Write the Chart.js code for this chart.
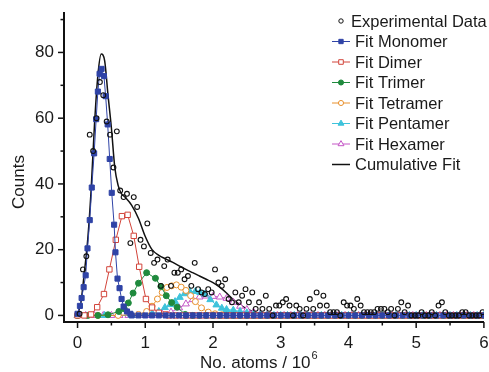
<!DOCTYPE html>
<html>
<head>
<meta charset="utf-8">
<script src="https://cdn.jsdelivr.net/npm/chart.js@4.4.1/dist/chart.umd.min.js"></script>
<style>
  html, body { margin: 0; padding: 0; background: #fff; }
  #wrap { width: 489px; height: 372px; }
</style>
</head>
<body>
<div id="wrap"><canvas id="chart" width="489" height="372"></canvas></div>
<script>
// axis ticks
const xTickLabels = [0, 1, 2, 3, 4, 5, 6];
const xTickMarks = [0, 0.5, 1, 1.5, 2, 2.5, 3, 3.5, 4, 4.5, 5, 5.5, 6];
const yTickLabels = [0, 20, 40, 60, 80];
const yTickMarks = [0, 10, 20, 30, 40, 50, 60, 70, 80, 90];

// experimental data (No. atoms / 10^6, counts)
const expX = [
  0.03, 0.08, 0.13, 0.18, 0.23, 0.28, 0.33, 0.38, 0.43, 0.48,
  0.53, 0.58, 0.63, 0.68, 0.73, 0.78, 0.83, 0.88, 0.93, 0.98,
  1.03, 1.08, 1.13, 1.18, 1.23, 1.28, 1.33, 1.38, 1.43, 1.48,
  1.53, 1.58, 1.63, 1.68, 1.73, 1.78, 1.83, 1.88, 1.93, 1.98,
  2.03, 2.08, 2.13, 2.18, 2.23, 2.28, 2.33, 2.38, 2.43, 2.48,
  2.53, 2.58, 2.63, 2.68, 2.73, 2.78, 2.83, 2.88, 2.93, 2.98,
  3.03, 3.08, 3.13, 3.18, 3.23, 3.28, 3.33, 3.38, 3.43, 3.48,
  3.53, 3.58, 3.63, 3.68, 3.73, 3.78, 3.83, 3.88, 3.93, 3.98,
  4.03, 4.08, 4.13, 4.18, 4.23, 4.28, 4.33, 4.38, 4.43, 4.48,
  4.53, 4.58, 4.63, 4.68, 4.73, 4.78, 4.83, 4.88, 4.93, 4.98,
  5.03, 5.08, 5.13, 5.18, 5.23, 5.28, 5.33, 5.38, 5.43, 5.48,
  5.53, 5.58, 5.63, 5.68, 5.73, 5.78, 5.83, 5.88, 5.93, 5.98
];
const expY = [
  0.5, 14, 18, 55, 50, 60, 71, 67, 59, 55,
  45, 56, 38, 36, 37, 22, 36, 33, 23, 21,
  28, 19, 16, 17, 9, 15, 17, 9, 13, 13,
  14, 11, 12, 9, 16, 8, 7, 6.5, 8, 7,
  14, 10, 9, 11, 5, 4, 7, 4, 6, 8,
  4, 7, 2, 4, 2, 6, 2, 0, 3, 3,
  4, 5, 3, 0, 3, 2, 0, 2, 5, 2,
  7, 3, 6, 3, 1, 1, 1, 0, 4, 3,
  3, 2, 5, 3, 1, 1, 1, 1, 2, 2,
  2, 1, 2, 0, 2, 4, 1, 3, 0, 0,
  0, 1, 0, 0, 1, 0, 3, 4, 1, 0,
  0, 0, 0, 1, 1, 0, 0, 0, 0, 1
];

// fitted components
const monoX = [0, 0.035, 0.06, 0.09, 0.12, 0.147, 0.18, 0.21, 0.245, 0.275, 0.3, 0.325, 0.355, 0.39, 0.415, 0.445, 0.475, 0.505, 0.54, 0.56, 0.59, 0.62, 0.65, 0.68, 0.73, 0.78];
const monoY = [0.5, 2.9, 5.3, 8.6, 12.2, 20.4, 29, 38.9, 49.3, 59.7, 68.1, 73.5, 75, 72.8, 66.7, 58.1, 47.6, 37.3, 27.6, 19.2, 11.2, 8.3, 5, 2.7, 1.2, 0.5];
const dimerX = [0, 0.1, 0.2, 0.29, 0.39, 0.47, 0.565, 0.655, 0.74, 0.83, 0.91, 1.01, 1.1, 1.2, 1.3];
const dimerY = [0, 0, 0.3, 2.5, 6.5, 14, 23, 30.2, 30.6, 24.2, 14.8, 5, 2.4, 0.8, 0.3];
const trimerX = [0, 0.15, 0.3, 0.45, 0.61, 0.69, 0.75, 0.82, 0.9, 1.02, 1.15, 1.23, 1.31, 1.39, 1.47, 1.59];
const trimerY = [0, 0, 0, 0.2, 1.2, 2, 3.8, 6.8, 9.8, 13, 11.3, 8.8, 6, 3.9, 2.5, 0.3];
const tetraX = [0, 0.3, 0.6, 0.9, 1.02, 1.1, 1.18, 1.25, 1.32, 1.39, 1.46, 1.53, 1.6, 1.67, 1.74, 1.83, 1.93, 2.03, 2.13];
const tetraY = [0, 0, 0, 0.3, 1.2, 2.8, 5, 7, 8.5, 9, 9.3, 8.6, 7.6, 6, 4.2, 2.3, 1, 0.5, 0.2];
const pentaX = [0, 0.4, 0.8, 1.1, 1.2, 1.29, 1.37, 1.44, 1.51, 1.58, 1.66, 1.74, 1.81, 1.88, 1.96, 2.05, 2.13, 2.2, 2.3, 2.4, 2.5, 2.6, 2.7];
const pentaY = [0, 0, 0, 0.5, 1.2, 2.4, 3.3, 4.2, 5.5, 6.6, 7.2, 7.3, 7, 6.5, 4.8, 3.2, 2.2, 1.8, 1.6, 1.2, 0.8, 0.4, 0.2];
const hexaX = [0, 0.12, 0.25, 0.38, 0.5, 0.62, 0.75, 0.88, 1.0, 1.12, 1.25, 1.38, 1.5, 1.6, 1.7, 1.8, 1.9, 2.0, 2.1, 2.2, 2.3, 2.4, 2.5, 2.6, 2.7, 2.8];
const hexaY = [0, 0, 0, 0, 0, 0, 0, 0, 0, 0.1, 0.4, 1, 2.3, 3.5, 4.8, 5.6, 5.9, 5.8, 5.6, 5.2, 4, 2.8, 1.8, 1, 0.5, 0.2];
const cumX = [0, 0.05, 0.1, 0.15, 0.2, 0.25, 0.3, 0.35, 0.4, 0.45, 0.5, 0.55, 0.6, 0.65, 0.7, 0.8, 0.9, 1.0, 1.1, 1.2, 1.3, 1.4, 1.5, 1.6, 1.7, 1.8, 1.9, 2.0, 2.1, 2.2, 2.3, 2.4, 2.5, 2.6, 2.7, 2.8, 3.0, 6.0];
const cumY = [0.3, 4, 13, 23, 38, 58, 73, 79.5, 77.5, 67, 57, 45, 39.5, 37, 36, 33.5, 29.5, 24, 20, 18.3, 17.2, 16.2, 15.1, 14, 13, 12, 11, 10, 8.6, 6.8, 4.8, 3.2, 2, 1.1, 0.5, 0.2, 0, 0];

// zero-count baseline positions where the fit curves sit on 0
const baseX = [0.8, 0.9, 1.0, 1.1, 1.2, 1.3, 1.4, 1.5, 1.6, 1.7, 1.8, 1.9, 2.0, 2.1, 2.2, 2.3, 2.4, 2.5, 2.6, 2.7, 2.8, 2.9,
  3.0, 3.1, 3.2, 3.3, 3.4, 3.5, 3.6, 3.7, 3.8, 3.9, 4.0, 4.1, 4.2, 4.3, 4.4, 4.5, 4.6, 4.7, 4.8, 4.9,
  5.0, 5.1, 5.2, 5.3, 5.4, 5.5, 5.6, 5.7, 5.8, 5.9, 6.0];
const baseX2 = [0.85, 0.95, 1.05, 1.15, 1.25, 1.35, 1.45, 1.55, 1.65, 1.75, 1.85, 1.95, 2.05, 2.15, 2.25, 2.35, 2.45, 2.55, 2.65, 2.75, 2.85, 2.95,
  3.05, 3.15, 3.25, 3.35, 3.45, 3.55, 3.65, 3.75, 3.85, 3.95, 4.05, 4.15, 4.25, 4.35, 4.45, 4.55, 4.65, 4.75, 4.85, 4.95,
  5.05, 5.15, 5.25, 5.35, 5.45, 5.55, 5.65, 5.75, 5.85, 5.95];

function pts(xs, ys) {
  return xs.map((x, i) => ({ x: x, y: ys[i] }));
}

function withBase(xs, ys, base) {
  const last = xs[xs.length - 1];
  return pts(xs, ys).concat(base.filter(x => x > last).map(x => ({ x: x, y: 0 })));
}

const FONT = '"Liberation Sans", Arial, sans-serif';
const TEXT = '#1a1a1a';

function fitSet(label, data, color, style, filled, radius) {
  return {
    label: label,
    data: data,
    showLine: true,
    borderColor: color,
    borderWidth: 1,
    pointStyle: style,
    pointRadius: radius,
    pointBorderWidth: 1,
    pointBorderColor: color,
    pointBackgroundColor: filled ? color : '#ffffff',
    tension: 0
  };
}

const datasets = [
  {
    label: 'Experimental Data',
    data: pts(expX, expY),
    showLine: false,
    pointStyle: 'circle',
    pointRadius: 2.4,
    pointBorderWidth: 1.1,
    pointBorderColor: '#111',
    pointBackgroundColor: 'rgba(255,255,255,0)'
  },
  fitSet('Fit Monomer', withBase(monoX, monoY, baseX), '#2f43a6', 'rect', true, 3.6),
  fitSet('Fit Dimer', withBase(dimerX, dimerY, baseX2), '#d2443a', 'rect', false, 3.8),
  fitSet('Fit Trimer', withBase(trimerX, trimerY, baseX), '#1f8a3d', 'circle', true, 3),
  fitSet('Fit Tetramer', withBase(tetraX, tetraY, baseX2), '#e8902c', 'circle', false, 3),
  fitSet('Fit Pentamer', withBase(pentaX, pentaY, baseX), '#3ec3db', 'triangle', true, 4),
  fitSet('Fit Hexamer', withBase(hexaX, hexaY, baseX2), '#c456c6', 'triangle', false, 4),
  {
    label: 'Cumulative Fit',
    data: pts(cumX, cumY),
    showLine: true,
    borderColor: '#111',
    borderWidth: 1.5,
    pointRadius: 0,
    cubicInterpolationMode: 'monotone'
  }
];

// tick marks, axis titles and the legend
const decor = {
  id: 'decor',
  afterDraw(chart) {
    const { ctx, chartArea, scales } = chart;
    ctx.save();
    ctx.strokeStyle = '#111';
    ctx.lineWidth = 1.5;
    xTickMarks.forEach(v => {
      const px = scales.x.getPixelForValue(v);
      const len = Number.isInteger(v) ? 6 : 3.5;
      ctx.beginPath();
      ctx.moveTo(px, chartArea.bottom);
      ctx.lineTo(px, chartArea.bottom + len);
      ctx.stroke();
    });
    yTickMarks.forEach(v => {
      const py = scales.y.getPixelForValue(v);
      const len = v % 20 === 0 ? 6 : 3.5;
      ctx.beginPath();
      ctx.moveTo(chartArea.left, py);
      ctx.lineTo(chartArea.left - len, py);
      ctx.stroke();
    });

    // axis titles
    ctx.fillStyle = TEXT;
    ctx.font = '17px ' + FONT;
    ctx.textBaseline = 'alphabetic';
    ctx.textAlign = 'left';
    const xTitle = 'No. atoms / 10';
    const w = ctx.measureText(xTitle).width;
    const x0 = 200;
    ctx.fillText(xTitle, x0, 368);
    ctx.font = '11px ' + FONT;
    ctx.fillText('6', x0 + w + 1, 359);

    ctx.save();
    ctx.font = '17px ' + FONT;
    ctx.translate(24, 182);
    ctx.rotate(-Math.PI / 2);
    ctx.textAlign = 'center';
    ctx.fillText('Counts', 0, 0);
    ctx.restore();

    // legend
    ctx.font = '16.5px ' + FONT;
    ctx.textBaseline = 'middle';
    chart.data.datasets.forEach((ds, i) => {
      const y = 21 + i * 20.5;
      if (i === 0) {
        ctx.strokeStyle = ds.pointBorderColor;
        ctx.lineWidth = 1;
        ctx.fillStyle = 'rgba(255,255,255,0)';
        Chart.helpers.drawPoint(ctx, { pointStyle: 'circle', radius: 2.2, borderWidth: 1 }, 341, y);
        ctx.fillStyle = TEXT;
        ctx.fillText(ds.label, 351, y + 1);
        return;
      }
      ctx.strokeStyle = ds.borderColor;
      ctx.lineWidth = ds.borderWidth;
      ctx.beginPath();
      ctx.moveTo(332, y);
      ctx.lineTo(350, y);
      ctx.stroke();
      if (ds.pointRadius) {
        ctx.strokeStyle = ds.pointBorderColor;
        ctx.fillStyle = ds.pointBackgroundColor;
        ctx.lineWidth = 1;
        Chart.helpers.drawPoint(ctx, { pointStyle: ds.pointStyle, radius: ds.pointRadius * 0.85, borderWidth: 1 }, 341, y);
      }
      ctx.fillStyle = TEXT;
      ctx.fillText(ds.label, 355, y + 1);
    });
    ctx.restore();
  }
};

new Chart(document.getElementById('chart'), {
  type: 'scatter',
  data: { datasets: datasets },
  options: {
    responsive: false,
    animation: false,
    layout: { padding: { top: 13, right: 4, left: 0, bottom: 0 } },
    plugins: {
      legend: { display: false },
      tooltip: { enabled: false }
    },
    scales: {
      x: {
        type: 'linear',
        min: -0.2,
        max: 6,
        afterBuildTicks: s => { s.ticks = xTickLabels.map(v => ({ value: v })); },
        afterFit: s => { s.height = 50; s.paddingLeft = 0; s.paddingRight = 0; },
        grid: { display: false, drawTicks: false },
        border: { display: true, color: '#111', width: 2 },
        ticks: { color: TEXT, padding: 11, font: { family: FONT, size: 17 } }
      },
      y: {
        type: 'linear',
        min: -2,
        max: 92,
        afterBuildTicks: s => { s.ticks = yTickLabels.map(v => ({ value: v })); },
        afterFit: s => { s.width = 64; s.paddingTop = 0; s.paddingBottom = 0; },
        grid: { display: false, drawTicks: false },
        border: { display: true, color: '#111', width: 2 },
        ticks: { color: TEXT, padding: 10, font: { family: FONT, size: 17 } }
      }
    }
  },
  plugins: [decor]
});
</script>
</body>
</html>
